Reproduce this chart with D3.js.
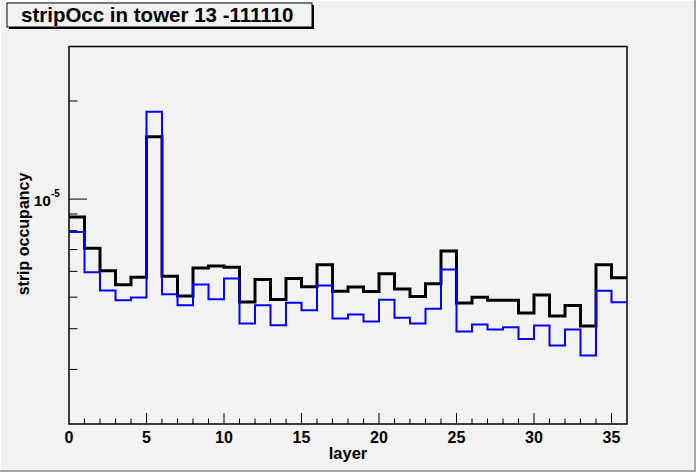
<!DOCTYPE html>
<html>
<head>
<meta charset="utf-8">
<script src="https://cdn.jsdelivr.net/npm/d3@7"></script>
<style>
  html, body { margin: 0; padding: 0; background: #f2f2f2; }
  svg { display: block; font-family: "Liberation Sans", Arial, sans-serif; font-weight: bold; }
</style>
</head>
<body>
<svg id="chart" width="696" height="472"></svg>
<script>
// layer bins 0..35, one value per bin (strip occupancy)
const layers = d3.range(36);
const occBlack = [
  8.81e-6, 7.07e-6, 6.03e-6, 5.46e-6, 5.76e-6, 1.553e-5, 5.80e-6, 5.04e-6, 6.14e-6, 6.23e-6,
  6.18e-6, 4.83e-6, 5.66e-6, 4.92e-6, 5.70e-6, 5.38e-6, 6.29e-6, 5.21e-6, 5.37e-6, 5.20e-6,
  5.90e-6, 5.30e-6, 5.02e-6, 5.50e-6, 6.93e-6, 4.80e-6, 5.00e-6, 4.89e-6, 4.89e-6, 4.47e-6,
  5.08e-6, 4.38e-6, 4.71e-6, 4.08e-6, 6.29e-6, 5.73e-6
];
const occBlue = [
  7.92e-6, 5.96e-6, 5.24e-6, 4.89e-6, 4.99e-6, 1.853e-5, 5.10e-6, 4.72e-6, 5.47e-6, 4.93e-6,
  5.70e-6, 4.15e-6, 4.72e-6, 4.10e-6, 4.81e-6, 4.56e-6, 5.43e-6, 4.30e-6, 4.42e-6, 4.21e-6,
  4.91e-6, 4.32e-6, 4.15e-6, 4.61e-6, 6.08e-6, 3.92e-6, 4.12e-6, 3.98e-6, 4.04e-6, 3.72e-6,
  4.09e-6, 3.55e-6, 3.98e-6, 3.31e-6, 5.23e-6, 4.82e-6
];
const xTickLabels = [0, 5, 10, 15, 20, 25, 30, 35];
const yMinorTicks = [3e-6, 4e-6, 5e-6, 6e-6, 7e-6, 8e-6, 9e-6, 2e-5];
const yMajorTicks = [1e-5];
const yDomain = [2.04e-6, 2.94e-5];

const frame = { left: 69, right: 627, top: 46.5, bottom: 424 };

const svg = d3.select("#chart");

const x = d3.scaleLinear().domain([0, 36]).range([frame.left, frame.right]);
const y = d3.scaleLog().domain(yDomain).range([frame.bottom, frame.top]);

// canvas bevel
svg.append("rect").attr("width", 696).attr("height", 472).attr("fill", "#f2f2f2");
svg.append("path").attr("d", "M0,0.5H696").attr("stroke", "#ffffff").attr("stroke-width", 1);
svg.append("path").attr("d", "M0.5,0V472").attr("stroke", "#ffffff").attr("stroke-width", 1);
svg.append("path").attr("d", "M695,0V472").attr("stroke", "#a6a6a6").attr("stroke-width", 2);
svg.append("path").attr("d", "M0,471H696").attr("stroke", "#a6a6a6").attr("stroke-width", 2);

function stepPath(values) {
  let d = `M${x(0)},${y(values[0])}`;
  values.forEach((v, i) => {
    if (i > 0) d += `V${y(v)}`;
    d += `H${x(i + 1)}`;
  });
  return d;
}

// histograms
svg.append("path")
  .attr("d", stepPath(occBlack))
  .attr("fill", "none")
  .attr("stroke", "#000")
  .attr("stroke-width", 3);

svg.append("path")
  .attr("d", stepPath(occBlue))
  .attr("fill", "none")
  .attr("stroke", "#0000ff")
  .attr("stroke-width", 2);

// frame
svg.append("rect")
  .attr("x", frame.left).attr("y", frame.top)
  .attr("width", frame.right - frame.left).attr("height", frame.bottom - frame.top)
  .attr("fill", "none").attr("stroke", "#000").attr("stroke-width", 1.5);

// x axis ticks
const xAxis = svg.append("g").attr("stroke", "#000").attr("stroke-width", 1);
layers.slice(1).forEach((v) => {
  const len = v % 5 === 0 ? 11 : 5.5;
  xAxis.append("line")
    .attr("x1", x(v)).attr("x2", x(v))
    .attr("y1", frame.bottom).attr("y2", frame.bottom - len);
});

svg.append("g").selectAll("text")
  .data(xTickLabels)
  .join("text")
  .attr("x", (d) => x(d))
  .attr("y", 442.5)
  .attr("text-anchor", "middle")
  .attr("font-size", 16)
  .text((d) => d);

svg.append("text")
  .attr("x", (frame.left + frame.right) / 2)
  .attr("y", 459)
  .attr("text-anchor", "middle")
  .attr("font-size", 16.5)
  .text("layer");

// y axis ticks
const yAxis = svg.append("g").attr("stroke", "#000").attr("stroke-width", 1);
yMinorTicks.forEach((v) => {
  yAxis.append("line")
    .attr("x1", frame.left).attr("x2", frame.left + 8.5)
    .attr("y1", y(v)).attr("y2", y(v));
});
yMajorTicks.forEach((v) => {
  yAxis.append("line")
    .attr("x1", frame.left).attr("x2", frame.left + 18)
    .attr("y1", y(v)).attr("y2", y(v));
  svg.append("text")
    .attr("x", 51)
    .attr("y", y(v) + 7)
    .attr("text-anchor", "end")
    .attr("font-size", 15.5)
    .text("10");
  svg.append("text")
    .attr("x", 51)
    .attr("y", y(v) - 2)
    .attr("font-size", 10)
    .text("-5");
});

svg.append("text")
  .attr("transform", `translate(29,234) rotate(-90)`)
  .attr("text-anchor", "middle")
  .attr("font-size", 16)
  .text("strip occupancy");

// title box
svg.append("rect")
  .attr("x", 9).attr("y", 5).attr("width", 305).attr("height", 24)
  .attr("fill", "#000");
svg.append("rect")
  .attr("x", 7).attr("y", 3).attr("width", 305).attr("height", 24)
  .attr("fill", "#f2f2f2").attr("stroke", "#000").attr("stroke-width", 1);
svg.append("text")
  .attr("x", 21).attr("y", 21.5)
  .attr("font-size", 20.5)
  .text("stripOcc in tower 13 -111110");
</script>
</body>
</html>
